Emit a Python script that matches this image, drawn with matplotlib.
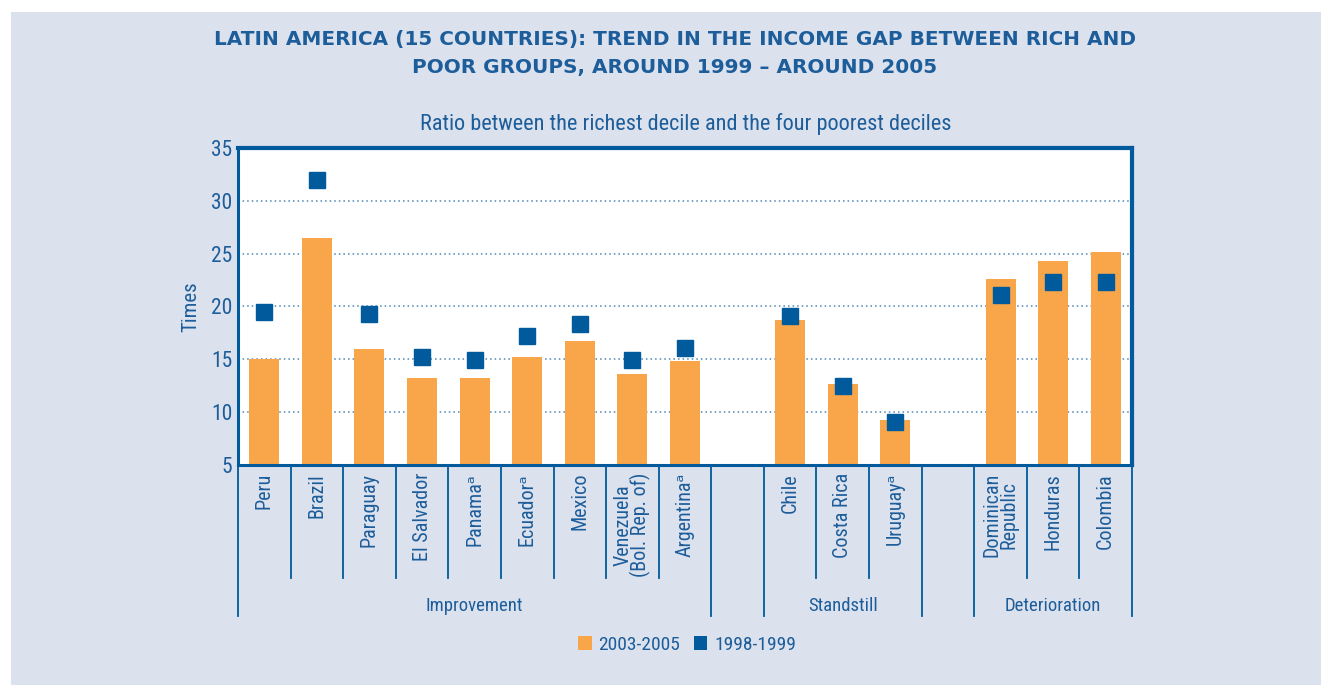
import matplotlib
matplotlib.use("Agg")
import matplotlib.pyplot as plt
from matplotlib import font_manager
from matplotlib.patches import Rectangle, Patch
from matplotlib.lines import Line2D

# ---- data -------------------------------------------------------------
countries = ["Peru", "Brazil", "Paraguay", "El Salvador", "Panama\u1d43",
             "Ecuador\u1d43", "Mexico", "Venezuela\n(Bol. Rep. of)", "Argentina\u1d43",
             "Chile", "Costa Rica", "Uruguay\u1d43",
             "Dominican\nRepublic", "Honduras", "Colombia"]
groups = ["Improvement", "Standstill", "Deterioration"]
group_sizes = [9, 3, 3]
values_2003_2005 = [15.0, 26.5, 16.0, 13.2, 13.2, 15.2, 16.7, 13.6, 14.8,
                    18.7, 12.7, 9.3,
                    22.6, 24.3, 25.2]
values_1998_1999 = [19.5, 32.0, 19.3, 15.2, 14.9, 17.2, 18.3, 14.9, 16.1,
                    19.1, 12.5, 9.1,
                    21.1, 22.3, 22.3]
yticks = [5, 10, 15, 20, 25, 30, 35]

# ---- style ------------------------------------------------------------
BG = "#dce1ee"
ORANGE = "#f9a64a"
BLUE = "#005a9c"
TEXT = "#1c5d9a"
GRID = "#4f86b5"


def pick_narrow_font():
    """Find a condensed sans family if one is installed."""
    entries = font_manager.fontManager.ttflist
    names = {f.name for f in entries}
    for name in ["Roboto Condensed", "Liberation Sans Narrow",
                 "Open Sans Condensed", "Noto Sans Condensed"]:
        if name in names:
            return name, "normal"
    for f in entries:
        if f.name == "DejaVu Sans" and str(f.stretch) in ("condensed", "semi-condensed"):
            return "DejaVu Sans", "condensed"
    return None, "normal"


narrow, stretch = pick_narrow_font()
if narrow is None:
    FAMILY = ["DejaVu Sans"]
    scale = 0.88
else:
    FAMILY = [narrow, "DejaVu Sans"]
    scale = 1.0 if narrow != "DejaVu Sans" else 0.97
plt.rcParams["font.family"] = FAMILY
plt.rcParams["font.stretch"] = stretch
TITLE_FAMILY = ["DejaVu Sans"]

W, H = 1321, 685
fig = plt.figure(figsize=(W / 100, H / 100), dpi=100, facecolor="white")
fig.patches.append(Rectangle((11 / W, 0), 1, 1 - 12 / H, transform=fig.transFigure,
                             facecolor=BG, edgecolor="none", zorder=-10))

ax = fig.add_axes([238 / W, 1 - 465 / H, (1132 - 238) / W, (465 - 148) / H])
ax.set_facecolor("white")

# slot positions: groups separated by one empty slot
xpos = []
start = 0
group_bounds = []
for n in group_sizes:
    xpos.extend(range(start, start + n))
    group_bounds.append((start - 0.5, start + n - 0.5))
    start += n + 1
nslots = start - 1

ax.bar(xpos, [v - 5 for v in values_2003_2005], bottom=5, width=0.57,
       color=ORANGE, zorder=2)
ax.plot(xpos, values_1998_1999, linestyle="none", marker="s", markersize=12,
        color=BLUE, zorder=3)

ax.set_xlim(-0.5, nslots - 0.5)
ax.set_ylim(5, 35)
ax.set_yticks(yticks)
ax.set_yticklabels([str(t) for t in yticks], fontsize=15.5 * scale, color=TEXT)
ax.tick_params(axis="y", length=0, pad=4)
ax.set_xticks([])
for y in yticks[1:-1]:
    ax.axhline(y, color=GRID, linestyle=(0, (1, 2)), linewidth=1.1, zorder=1)

for side in ["left", "bottom"]:
    ax.spines[side].set_color(BLUE)
    ax.spines[side].set_linewidth(2.2)
for side in ["top", "right"]:
    ax.spines[side].set_color(BLUE)
    ax.spines[side].set_linewidth(3.0)

ax.set_ylabel("Times", fontsize=15 * scale, color=TEXT, labelpad=8)

# ---- category axis below the plot -------------------------------------
trans = ax.get_xaxis_transform()
for x, name in zip(xpos, countries):
    ax.text(x, -0.025, name, rotation=90, ha="center", va="top",
            fontsize=14.5 * scale, color=TEXT, transform=trans, linespacing=0.88,
            multialignment="center", clip_on=False)

short_y, long_y = -0.357, -0.475
for (lo, hi), name in zip(group_bounds, groups):
    for b in (lo, hi):
        ax.add_line(Line2D([b, b], [0, long_y], transform=trans, color=BLUE,
                           linewidth=1.3, clip_on=False))
    k = lo + 1
    while k < hi - 0.01:
        ax.add_line(Line2D([k, k], [0, short_y], transform=trans, color=BLUE,
                           linewidth=1.3, clip_on=False))
        k += 1
    ax.text((lo + hi) / 2, -0.445, name, ha="center", va="center",
            fontsize=13.5 * scale, color=TEXT, transform=trans, clip_on=False)

# ---- titles -----------------------------------------------------------
fig.text(675 / W, 1 - 39 / H,
         "LATIN AMERICA (15 COUNTRIES): TREND IN THE INCOME GAP BETWEEN RICH AND",
         ha="center", va="center", fontsize=14.4, fontweight="bold", color=TEXT,
         family=TITLE_FAMILY, fontstretch="normal")
fig.text(675 / W, 1 - 68 / H, "POOR GROUPS, AROUND 1999 \u2013 AROUND 2005",
         ha="center", va="center", fontsize=14.4, fontweight="bold", color=TEXT,
         family=TITLE_FAMILY, fontstretch="normal")
fig.text(686 / W, 1 - 124 / H,
         "Ratio between the richest decile and the four poorest deciles",
         ha="center", va="center", fontsize=16 * scale, color=TEXT)

# ---- legend -----------------------------------------------------------
handles = [Patch(facecolor=ORANGE, edgecolor="none", label="2003-2005"),
           Patch(facecolor=BLUE, edgecolor="none", label="1998-1999")]
fig.legend(handles=handles, loc="center", bbox_to_anchor=(687 / W, 1 - 645 / H),
           ncol=2, frameon=False, fontsize=14 * scale, labelcolor=TEXT,
           handlelength=0.7, handleheight=0.7, handletextpad=0.35,
           columnspacing=0.7)

fig.savefig("out.png", dpi=100, facecolor=fig.get_facecolor())
